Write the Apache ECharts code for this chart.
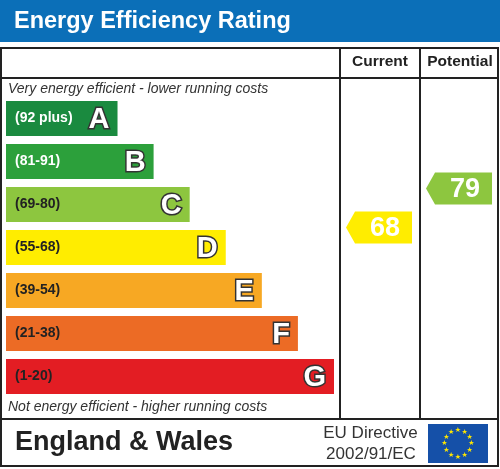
<!DOCTYPE html>
<html>
<head>
<meta charset="utf-8">
<script src="https://cdn.jsdelivr.net/npm/echarts@6/dist/echarts.min.js"></script>
<style>
  html, body { margin: 0; padding: 0; background: #fff; }
  #chart { width: 500px; height: 469px; }
</style>
</head>
<body>
<div id="chart"></div>
<script>
// energy bands, top (best) to bottom
var bands = ["A", "B", "C", "D", "E", "F", "G"];
var bandRanges = ["(92 plus)", "(81-91)", "(69-80)", "(55-68)", "(39-54)", "(21-38)", "(1-20)"];
var bandLow = [92, 81, 69, 55, 39, 21, 1];
var bandHigh = [100, 91, 80, 68, 54, 38, 20];
var barLengths = [34, 45, 56, 67, 78, 89, 100];
var bandColors = ["#1a8a3f", "#2ca03b", "#8dc63f", "#ffed00", "#f7a823", "#ec6b25", "#e31d23"];
var rangeTextColors = ["#fff", "#fff", "#222", "#222", "#222", "#222", "#222"];

var columns = ["Current", "Potential"];
var ratings = [68, 79];

var FONT = "'Liberation Sans', Arial, sans-serif";

function bandOf(v)
{
    for (var i = 0; i < bands.length; i++)
    {
        if (v >= bandLow[i] && v <= bandHigh[i]) return i;
    }
    return bands.length - 1;
}

// position on the 0..7 band scale
function ratingPos(v)
{
    var i = bandOf(v);
    return i + (bandHigh[i] - v + 0.5) / (bandHigh[i] - bandLow[i] + 1);
}

var barData = bands.map(function (b, i) { return [barLengths[i], i + 0.5, i]; });
var arrowData = ratings.map(function (r, i) { return [i, ratingPos(r), r]; });

var chart = echarts.init(document.getElementById("chart"));

var stars = [];
for (var k = 0; k < 12; k++)
{
    var a = k * Math.PI / 6;
    stars.push({
        type: "text",
        x: 458 + 13.5 * Math.sin(a),
        y: 443.5 - 13.5 * Math.cos(a),
        style: { text: "★", fill: "#ffe600", font: "7px 'DejaVu Sans'", align: "center", verticalAlign: "middle" },
        z: 20
    });
}

var lineStyle = { stroke: "#222", lineWidth: 2 };

chart.setOption({
    animation: false,
    grid: [
        { left: 6, width: 328, top: 97, height: 301 },
        { left: 340, width: 160, top: 97, height: 301 }
    ],
    xAxis: [
        { type: "value", gridIndex: 0, min: 0, max: 100, show: false },
        { type: "category", gridIndex: 1, data: columns, show: false }
    ],
    yAxis: [
        { type: "value", gridIndex: 0, min: 0, max: 7, inverse: true, show: false },
        { type: "value", gridIndex: 1, min: 0, max: 7, inverse: true, show: false }
    ],
    graphic: [
        { type: "rect", shape: { x: 0, y: 0, width: 500, height: 42 }, style: { fill: "#0b6fb8" } },
        { type: "text", x: 14, y: 22, style: { text: "Energy Efficiency Rating", fill: "#fff", font: "bold 23.5px " + FONT, verticalAlign: "middle" } },
        { type: "rect", shape: { x: 1, y: 48, width: 497, height: 418 }, style: { fill: "none", stroke: "#222", lineWidth: 2 } },
        { type: "line", shape: { x1: 340, y1: 48, x2: 340, y2: 419 }, style: lineStyle },
        { type: "line", shape: { x1: 420, y1: 48, x2: 420, y2: 419 }, style: lineStyle },
        { type: "line", shape: { x1: 1, y1: 78, x2: 499, y2: 78 }, style: lineStyle },
        { type: "line", shape: { x1: 1, y1: 419, x2: 499, y2: 419 }, style: lineStyle },
        { type: "text", x: 380, y: 62, style: { text: columns[0], fill: "#222", font: "bold 15.5px " + FONT, align: "center", verticalAlign: "middle" } },
        { type: "text", x: 460, y: 62, style: { text: columns[1], fill: "#222", font: "bold 15.5px " + FONT, align: "center", verticalAlign: "middle" } },
        { type: "text", x: 8, y: 89, style: { text: "Very energy efficient - lower running costs", fill: "#333", font: "italic 14px " + FONT, verticalAlign: "middle" } },
        { type: "text", x: 8, y: 407, style: { text: "Not energy efficient - higher running costs", fill: "#333", font: "italic 14px " + FONT, verticalAlign: "middle" } },
        { type: "text", x: 15, y: 443, style: { text: "England & Wales", fill: "#222", font: "bold 27px " + FONT, verticalAlign: "middle" } },
        { type: "text", x: 370.5, y: 433, style: { text: "EU Directive", fill: "#333", font: "17px " + FONT, align: "center", verticalAlign: "middle" } },
        { type: "text", x: 371, y: 454, style: { text: "2002/91/EC", fill: "#333", font: "17px " + FONT, align: "center", verticalAlign: "middle" } },
        { type: "rect", shape: { x: 428, y: 424, width: 60, height: 39 }, style: { fill: "#1550a8" }, z: 10 }
    ].concat(stars),
    series: [
        {
            type: "custom",
            xAxisIndex: 0,
            yAxisIndex: 0,
            data: barData,
            renderItem: function (params, api)
            {
                var i = api.value(2);
                var start = api.coord([0, api.value(1)]);
                var end = api.coord([api.value(0), api.value(1)]);
                var h = 35;
                return {
                    type: "group",
                    children: [
                        { type: "rect", shape: { x: start[0], y: start[1] - h / 2, width: end[0] - start[0], height: h }, style: { fill: bandColors[i] } },
                        { type: "text", x: start[0] + 9, y: start[1], style: { text: bandRanges[i], fill: rangeTextColors[i], font: "bold 14px " + FONT, verticalAlign: "middle" } },
                        { type: "text", x: end[0] - 8, y: start[1] + 1, style: { text: bands[i], fill: "#fff", stroke: "#333", lineWidth: 3, font: "bold 29px " + FONT, align: "right", verticalAlign: "middle" } }
                    ]
                };
            }
        },
        {
            type: "custom",
            xAxisIndex: 1,
            yAxisIndex: 1,
            data: arrowData,
            renderItem: function (params, api)
            {
                var c = api.coord([api.value(0), api.value(1)]);
                var v = api.value(2);
                var left = c[0] - 34, right = c[0] + 32, tip = 9, h = 32;
                return {
                    type: "group",
                    children: [
                        {
                            type: "polygon",
                            shape: { points: [[left, c[1]], [left + tip, c[1] - h / 2], [right, c[1] - h / 2], [right, c[1] + h / 2], [left + tip, c[1] + h / 2]] },
                            style: { fill: bandColors[bandOf(v)] }
                        },
                        { type: "text", x: c[0] + 5, y: c[1] + 1, style: { text: String(v), fill: "#fff", font: "bold 27px " + FONT, align: "center", verticalAlign: "middle" } }
                    ]
                };
            }
        }
    ]
});
</script>
</body>
</html>
